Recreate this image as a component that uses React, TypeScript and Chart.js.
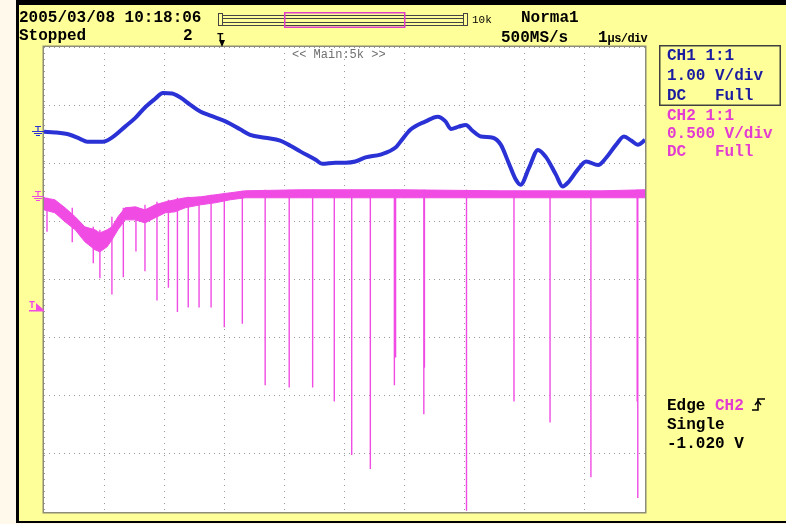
import React, { useEffect, useRef } from "react";
import { Chart, registerables } from "chart.js";
Chart.register(...registerables);

// Time axis: µs from the left edge of the screen (1 µs/div, 10 divisions)
// CH1 (blue) in volts, 1.00 V/div
const ch1Time = [0.0, 0.18, 0.43, 0.6, 0.72, 0.98, 1.13, 1.35, 1.52, 1.68, 1.85, 1.98, 2.13, 2.27, 2.43, 2.6, 2.77, 3.02, 3.27, 3.43, 3.68, 3.93, 4.1, 4.27, 4.52, 4.63, 4.85, 5.02, 5.18, 5.35, 5.6, 5.85, 5.93, 6.1, 6.35, 6.55, 6.68, 6.77, 6.9, 7.02, 7.13, 7.27, 7.47, 7.6, 7.73, 7.85, 7.93, 8.07, 8.22, 8.35, 8.52, 8.63, 8.73, 8.88, 9.02, 9.22, 9.35, 9.52, 9.65, 9.77, 9.88, 10.0];
const ch1Volts = [-0.02, -0.03, -0.07, -0.14, -0.19, -0.19, -0.12, 0.07, 0.22, 0.4, 0.55, 0.65, 0.64, 0.57, 0.45, 0.33, 0.26, 0.16, 0.02, -0.07, -0.12, -0.17, -0.26, -0.36, -0.5, -0.57, -0.55, -0.55, -0.53, -0.46, -0.41, -0.29, -0.19, 0.02, 0.16, 0.24, 0.16, 0.03, 0.07, 0.1, 0.0, -0.1, -0.12, -0.24, -0.55, -0.84, -0.93, -0.64, -0.33, -0.45, -0.76, -0.96, -0.88, -0.67, -0.53, -0.59, -0.47, -0.24, -0.1, -0.17, -0.24, -0.16];

// CH2 (magenta) in volts, 0.500 V/div: noise band (upper / lower edge)
const ch2BandTime = [0.0, 0.18, 0.35, 0.52, 0.68, 0.85, 0.93, 1.05, 1.13, 1.23, 1.35, 1.52, 1.68, 1.85, 2.02, 2.18, 2.35, 2.6, 2.85, 3.1, 3.35, 4.27, 5.93, 7.6, 9.27, 10.0];
const ch2BandHigh = [-0.017, -0.034, -0.103, -0.181, -0.267, -0.293, -0.319, -0.293, -0.267, -0.181, -0.103, -0.095, -0.121, -0.078, -0.052, -0.034, -0.017, -0.009, 0.009, 0.026, 0.043, 0.052, 0.052, 0.043, 0.043, 0.052];
const ch2BandLow = [-0.121, -0.146, -0.224, -0.293, -0.396, -0.465, -0.482, -0.439, -0.379, -0.293, -0.207, -0.207, -0.233, -0.189, -0.146, -0.138, -0.103, -0.078, -0.06, -0.034, -0.017, -0.017, -0.017, -0.017, -0.017, -0.017];

// CH2 negative spikes: time and minimum voltage
const ch2SpikeTime = [0.05, 0.47, 0.82, 0.93, 1.13, 1.32, 1.53, 1.68, 1.88, 2.07, 2.22, 2.4, 2.58, 2.78, 3.0, 3.3, 3.68, 4.08, 4.47, 4.83, 5.12, 5.43, 5.83, 5.85, 6.32, 6.33, 7.03, 7.82, 8.42, 9.1, 9.87, 9.88];
const ch2SpikeMin = [-0.31, -0.4, -0.58, -0.71, -0.85, -0.7, -0.48, -0.65, -0.9, -0.79, -1.0, -0.96, -0.96, -0.96, -1.13, -1.1, -1.63, -1.65, -1.65, -1.77, -2.23, -2.35, -1.63, -1.39, -1.88, -1.48, -2.71, -1.77, -1.95, -2.42, -1.77, -2.6];

const CH1_VDIV = 1.0;
const CH2_VDIV = 0.5;
const CH1_POS_DIV = 2.56; // ground marker, divisions above centre
const CH2_POS_DIV = 1.44;
const TRIG_TIME = 2.97; // µs
const TRIG_MARK_DIV = -0.47;

const BLUE = "#2a32d6";
const PINK = "#f04ce4";
const BLUE_TXT = "#1c1ca0";
const PINK_TXT = "#e23cd2";
const YELLOW = "#ffff99";
const CREAM = "#fff9eb";

const toDiv1 = (v: number) => CH1_POS_DIV + v / CH1_VDIV;
const toDiv2 = (v: number) => CH2_POS_DIV + v / CH2_VDIV;

const scopePlugin = {
  id: "scope",
  beforeDraw(chart: any) {
    const { ctx, chartArea, width, height } = chart;
    ctx.save();
    ctx.fillStyle = CREAM;
    ctx.fillRect(0, 0, width, height);
    ctx.fillStyle = "#000";
    ctx.fillRect(16, 0, width - 16, 523);
    ctx.fillStyle = YELLOW;
    ctx.fillRect(19, 5, width - 19, 516);
    ctx.fillStyle = "#ffffff";
    ctx.fillRect(chartArea.left, chartArea.top, chartArea.right - chartArea.left, chartArea.bottom - chartArea.top);
    // memory bar
    ctx.strokeStyle = "#444";
    ctx.lineWidth = 1;
    ctx.strokeRect(218.5, 13.5, 4, 12);
    ctx.strokeRect(463.5, 13.5, 4, 12);
    ctx.beginPath();
    [15.5, 18.5, 22.5, 25.5].forEach((y) => { ctx.moveTo(223, y); ctx.lineTo(463, y); });
    ctx.stroke();
    ctx.strokeStyle = "#e040c8";
    ctx.lineWidth = 1.5;
    ctx.strokeRect(284.75, 12.75, 120, 14.5);
    // channel info box
    ctx.strokeStyle = "#404040";
    ctx.strokeRect(659.75, 45.75, 120.5, 59.5);
    ctx.restore();
  },
  afterDraw(chart: any) {
    const { ctx, chartArea, scales } = chart;
    const { left, top, right, bottom } = chartArea;
    ctx.save();
    ctx.strokeStyle = "#8c8c78";
    ctx.lineWidth = 1.5;
    ctx.strokeRect(left - 0.75, top - 0.75, right - left + 1.5, bottom - top + 1.5);

    const ground = (yv: number, color: string) => {
      const y = Math.round(scales.y.getPixelForValue(yv)) + 0.5;
      ctx.strokeStyle = color;
      ctx.lineWidth = 1.2;
      ctx.beginPath();
      ctx.moveTo(35, y - 5); ctx.lineTo(41, y - 5);
      ctx.moveTo(38, y - 5); ctx.lineTo(38, y);
      ctx.moveTo(32, y); ctx.lineTo(44, y);
      ctx.moveTo(34, y + 2); ctx.lineTo(42, y + 2);
      ctx.moveTo(36, y + 4); ctx.lineTo(40, y + 4);
      ctx.stroke();
    };
    ground(CH1_POS_DIV, BLUE);
    ground(CH2_POS_DIV, PINK);

    // trigger level marker
    const ty = Math.round(scales.y.getPixelForValue(TRIG_MARK_DIV));
    ctx.fillStyle = PINK;
    ctx.font = "bold 10px 'Liberation Mono'";
    ctx.textBaseline = "bottom";
    ctx.fillText("T", 29, ty + 3);
    ctx.beginPath();
    ctx.moveTo(36, ty - 4); ctx.lineTo(44, ty + 3); ctx.lineTo(36, ty + 3); ctx.closePath();
    ctx.fill();
    ctx.fillRect(29, ty + 3, 15, 1.5);

    // trigger position marker on top
    const tx = Math.round(scales.x.getPixelForValue(TRIG_TIME));
    ctx.fillStyle = "#000";
    ctx.font = "bold 11px 'Liberation Mono'";
    ctx.textBaseline = "alphabetic";
    ctx.fillText("T", tx - 5, 40);
    ctx.beginPath();
    ctx.moveTo(tx - 3, 40); ctx.lineTo(tx + 3, 40); ctx.lineTo(tx, 47); ctx.closePath();
    ctx.fill();
    ctx.restore();
  },
};

function ScopeChart() {
  const ref = useRef<HTMLCanvasElement | null>(null);
  useEffect(() => {
    if (!ref.current) return;
    const ch1Data = ch1Time.map((t, i) => ({ x: t, y: toDiv1(ch1Volts[i]) }));
    const hiData = ch2BandTime.map((t, i) => ({ x: t, y: toDiv2(ch2BandHigh[i]) }));
    const loData = ch2BandTime.map((t, i) => ({ x: t, y: toDiv2(ch2BandLow[i]) }));
    const spikeData: any[] = [];
    ch2SpikeTime.forEach((t, i) => {
      let k = ch2BandTime.findIndex((bt) => bt > t);
      if (k < 1) k = 1;
      const topV = Math.max(ch2BandHigh[k - 1], ch2BandHigh[k]);
      spikeData.push({ x: t, y: toDiv2(topV) }, { x: t, y: toDiv2(ch2SpikeMin[i]) }, { x: t, y: null });
    });
    const chart = new Chart(ref.current, {
      type: "line",
      data: {
        datasets: [
          { label: "CH2 band high", data: hiData, borderColor: PINK, backgroundColor: PINK, borderWidth: 1, pointRadius: 0, fill: "+1", tension: 0 },
          { label: "CH2 band low", data: loData, borderColor: PINK, backgroundColor: PINK, borderWidth: 1, pointRadius: 0, fill: false, tension: 0 },
          { label: "CH2 spikes", data: spikeData, borderColor: PINK, borderWidth: 1.4, pointRadius: 0, fill: false, spanGaps: false },
          { label: "CH1", data: ch1Data, borderColor: BLUE, borderWidth: 4, pointRadius: 0, fill: false, cubicInterpolationMode: "monotone" },
        ],
      },
      options: {
        animation: false,
        responsive: false,
        devicePixelRatio: 1,
        layout: { padding: { left: 44, right: 141, top: 47, bottom: 12 } },
        plugins: { legend: { display: false }, tooltip: { enabled: false } },
        scales: {
          x: {
            type: "linear", min: 0, max: 10,
            ticks: { display: false, stepSize: 1 },
            grid: { color: "#9a9a9a", drawTicks: false, lineWidth: 1 },
            border: { display: false, dash: [1, 5] },
          },
          y: {
            type: "linear", min: -4, max: 4,
            ticks: { display: false, stepSize: 1 },
            grid: { color: "#9a9a9a", drawTicks: false, lineWidth: 1 },
            border: { display: false, dash: [1, 4] },
          },
        },
      },
      plugins: [scopePlugin],
    });
    return () => chart.destroy();
  }, []);
  return <canvas ref={ref} width={786} height={524} style={{ position: "absolute", left: 0, top: 0 }} />;
}

const mono: React.CSSProperties = {
  position: "absolute",
  fontFamily: "'Liberation Mono', 'DejaVu Sans Mono', monospace",
  fontWeight: "bold",
  fontSize: 16,
  lineHeight: "16px",
  whiteSpace: "pre",
  color: "#000",
};

function T(props: { x: number; y: number; c?: string; s?: React.CSSProperties; children: React.ReactNode }) {
  return <div style={{ ...mono, left: props.x, top: props.y, color: props.c || "#000", ...(props.s || {}) }}>{props.children}</div>;
}

export default function App() {
  return (
    <div style={{ position: "absolute", left: 0, top: 0, width: 786, height: 524, backgroundColor: YELLOW, overflow: "hidden" }}>
      <ScopeChart />
      <T x={19} y={10}>2005/03/08 10:18:06</T>
      <T x={19} y={28}>Stopped</T>
      <T x={183} y={28}>2</T>
      <T x={472} y={15} s={{ fontSize: 11, fontWeight: "normal", lineHeight: "11px" }}>10k</T>
      <T x={521} y={10}>Norma1</T>
      <T x={501} y={30}>500MS/s</T>
      <T x={598} y={30}>1<span style={{ fontSize: 12, letterSpacing: -0.6 }}>µs/div</span></T>
      <T x={292} y={49} c="#707070" s={{ fontSize: 12, fontWeight: "normal", lineHeight: "12px" }}>{"<< Main:5k >>"}</T>
      <T x={667} y={48} c={BLUE_TXT}>CH1 1:1</T>
      <T x={667} y={68} c={BLUE_TXT}>1.00 V/div</T>
      <T x={667} y={88} c={BLUE_TXT}>DC   Full</T>
      <T x={667} y={108} c={PINK_TXT}>CH2 1:1</T>
      <T x={667} y={126} c={PINK_TXT}>0.500 V/div</T>
      <T x={667} y={144} c={PINK_TXT}>DC   Full</T>
      <T x={667} y={398}>Edge <span style={{ color: PINK_TXT }}>CH2</span></T>
      <svg style={{ position: "absolute", left: 751, top: 397 }} width={16} height={16}>
        <path d="M1 13 H7 V2 H14" stroke="#000" strokeWidth={1.6} fill="none" />
        <path d="M4 8 L7 4 L10 8" stroke="#000" strokeWidth={1.4} fill="none" />
      </svg>
      <T x={667} y={417}>Single</T>
      <T x={667} y={436}>-1.020 V</T>
    </div>
  );
}
